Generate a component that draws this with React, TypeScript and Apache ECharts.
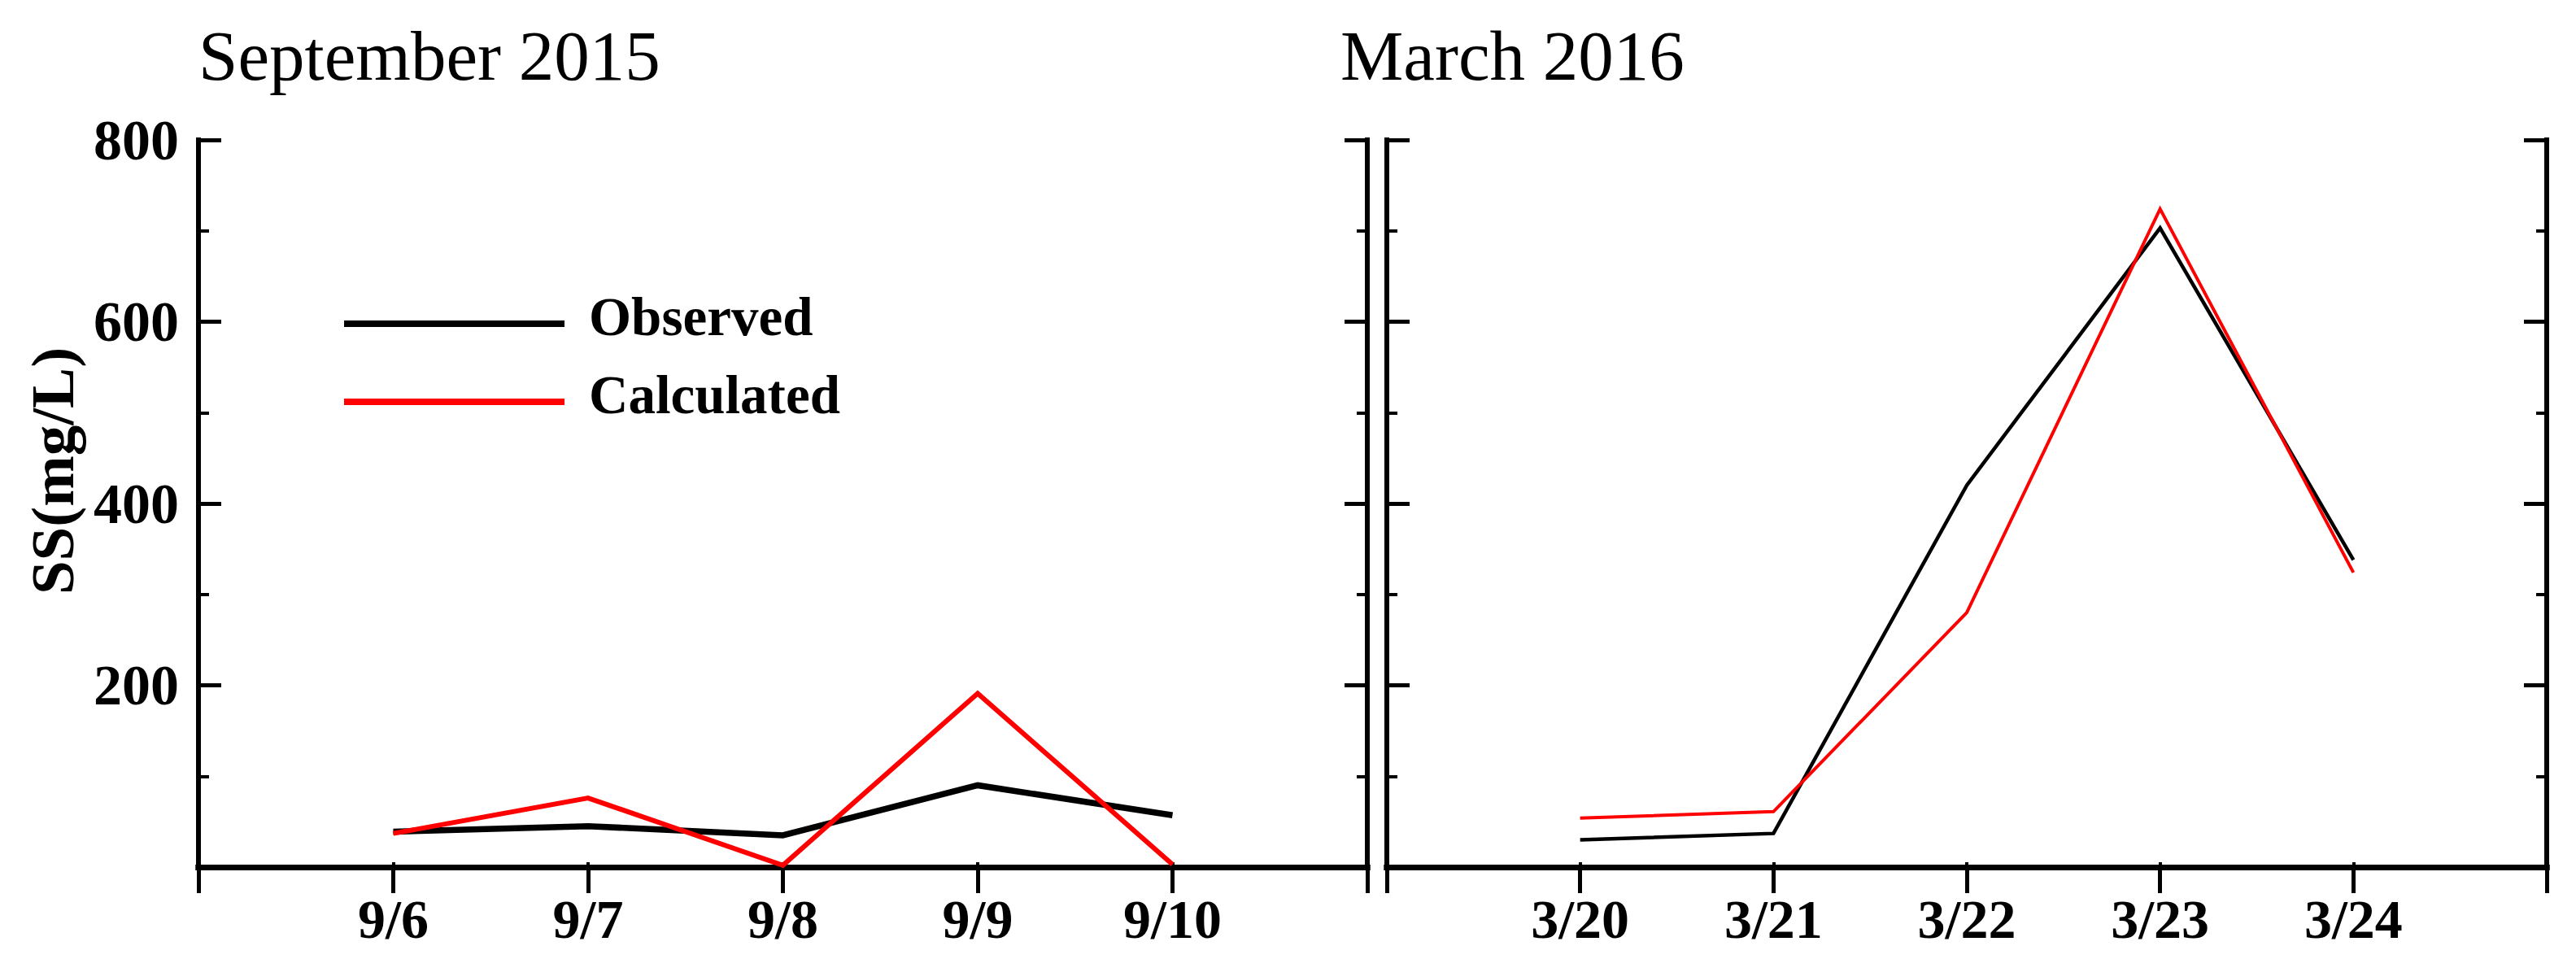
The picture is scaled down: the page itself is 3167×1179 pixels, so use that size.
import React, { useEffect, useRef } from "react";
import * as echarts from "echarts";

// ---- data ----
const sepDates = ["9/6", "9/7", "9/8", "9/9", "9/10"];
const sepObserved = [39, 45, 35, 90, 57];
const sepCalculated = [37, 76, 2, 191, 3];

const marDates = ["3/20", "3/21", "3/22", "3/23", "3/24"];
const marObserved = [30, 37, 420, 703, 338];
const marCalculated = [54, 61, 280, 724, 324];

const titles = ["September 2015", "March 2016"];
const seriesNames = ["Observed", "Calculated"];
const yMin = 0;
const yMax = 800;
const yInterval = 200;

const FONT = "'Liberation Serif', 'Times New Roman', serif";

function pad<T>(arr: T[], fill: any): any[] {
  return [fill, ...arr, fill];
}

export default function App() {
  const ref = useRef<HTMLDivElement>(null);

  useEffect(() => {
    if (!ref.current) return;
    const chart = echarts.init(ref.current, null, { renderer: "svg" });

    const grids = [
      { left: 244, top: 172, width: 1437, height: 894 },
      { left: 1705, top: 172, width: 1426, height: 894 },
    ];

    const frameLine = { color: "#000", width: 6, cap: "square" as const };

    const xCats = [pad(sepDates, ""), pad(marDates, "")];

    const xAxes: any[] = [];
    const yAxes: any[] = [];
    [0, 1].forEach((g) => {
      xAxes.push({
        type: "category",
        gridIndex: g,
        data: xCats[g],
        boundaryGap: false,
        position: "bottom",
        axisLine: { show: true, lineStyle: { ...frameLine, width: 7 } },
        axisTick: { show: true, inside: false, length: 32, lineStyle: { width: 5, color: "#000" } },
        axisLabel: {
          show: true,
          interval: 0,
          margin: 30,
          color: "#000",
          fontFamily: FONT,
          fontWeight: "bold",
          fontSize: 68,
        },
        splitLine: { show: false },
      });
      xAxes.push({
        type: "category",
        gridIndex: g,
        data: xCats[g],
        boundaryGap: false,
        position: "top",
        axisLine: { show: true, lineStyle: { ...frameLine, width: 7 } },
        axisTick: { show: true, inside: false, length: 6, lineStyle: { width: 4, color: "#000" } },
        axisLabel: { show: false },
        splitLine: { show: false },
      });
      const yBase = {
        type: "value",
        gridIndex: g,
        min: yMin,
        max: yMax,
        interval: yInterval,
        axisLine: { show: true, lineStyle: frameLine },
        axisTick: { show: true, inside: true, length: 28, lineStyle: { width: 5, color: "#000" } },
        minorTick: { show: true, splitNumber: 2, length: 13, lineStyle: { width: 4, color: "#000" } },
        splitLine: { show: false },
        minorSplitLine: { show: false },
      };
      yAxes.push({
        ...yBase,
        position: "left",
        name: g === 0 ? "SS(mg/L)" : "",
        nameLocation: "middle",
        nameGap: 142,
        nameTextStyle: {
          color: "#000",
          fontFamily: FONT,
          fontWeight: "bold",
          fontSize: 75,
          padding: [0, 0, 0, 80],
        },
        axisLabel: {
          show: g === 0,
          margin: 24,
          color: "#000",
          fontFamily: FONT,
          fontWeight: "bold",
          fontSize: 70,
          formatter: (v: number) => (v === 0 ? "" : String(v)),
        },
      });
      yAxes.push({
        ...yBase,
        position: "right",
        axisLabel: { show: false },
      });
    });

    const widths = [
      [7.5, 6],
      [4.5, 4],
    ];
    const colors = ["#000000", "#ff0000"];
    const allData = [
      [sepObserved, sepCalculated],
      [marObserved, marCalculated],
    ];

    const series: any[] = [];
    [0, 1].forEach((g) => {
      [0, 1].forEach((s) => {
        series.push({
          type: "line",
          name: seriesNames[s],
          xAxisIndex: g * 2,
          yAxisIndex: g * 2,
          data: pad(allData[g][s], "-"),
          symbol: "none",
          showSymbol: false,
          color: colors[s],
          itemStyle: { color: colors[s] },
          lineStyle: { color: colors[s], width: widths[g][s], join: "miter" },
          z: 2 + s,
        });
      });
    });

    chart.setOption({
      animation: false,
      backgroundColor: "#ffffff",
      title: [
        {
          text: titles[0],
          left: 244,
          top: 25,
          padding: 0,
          textStyle: { fontFamily: FONT, fontWeight: "normal", fontSize: 87, color: "#000" },
        },
        {
          text: titles[1],
          left: 1648,
          top: 25,
          padding: 0,
          textStyle: { fontFamily: FONT, fontWeight: "normal", fontSize: 87, color: "#000" },
        },
      ],
      legend: {
        data: seriesNames,
        left: 423,
        top: 354,
        orient: "vertical",
        padding: 0,
        itemWidth: 271,
        itemHeight: 26,
        itemGap: 26,
        icon: "path://M0,0L0.001,0Z M0,18L271,18L271,26L0,26Z",
        itemStyle: { borderWidth: 0 },
        textStyle: {
          fontFamily: FONT,
          fontWeight: "bold",
          fontSize: 67,
          lineHeight: 70,
          color: "#000",
          padding: [0, 0, 0, 25],
        },
      },
      grid: grids,
      xAxis: xAxes,
      yAxis: yAxes,
      series,
    });

    return () => chart.dispose();
  }, []);

  return (
    <div
      ref={ref}
      style={{ position: "fixed", left: 0, top: 0, width: 3167, height: 1179, background: "#fff" }}
    />
  );
}
